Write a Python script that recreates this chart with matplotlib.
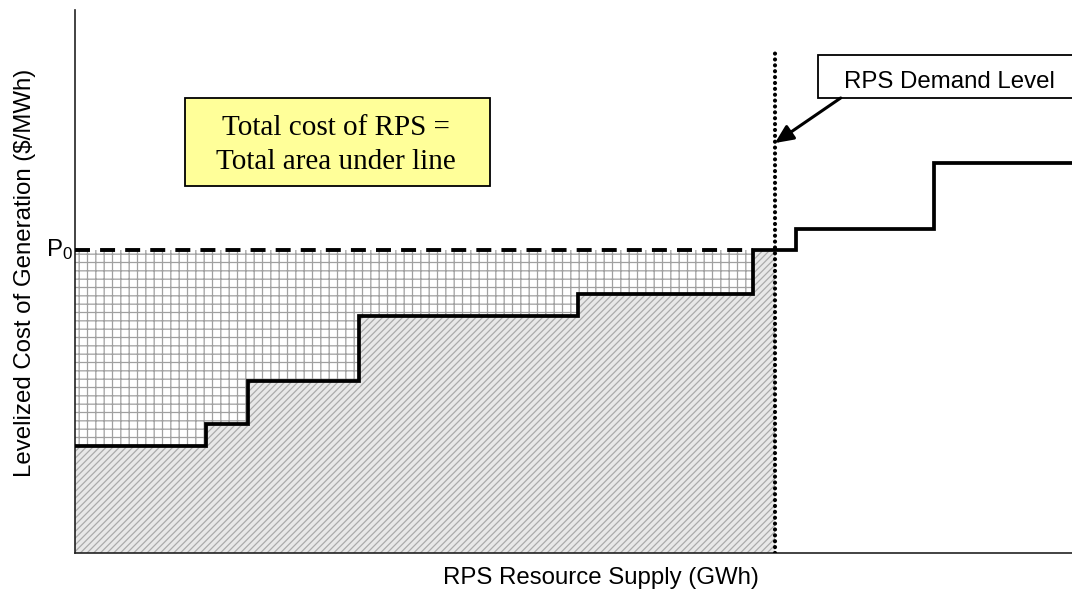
import matplotlib
matplotlib.use("Agg")
import matplotlib.pyplot as plt
from matplotlib.patches import Rectangle

plt.rcParams['font.family'] = ['Liberation Sans', 'DejaVu Sans']
plt.rcParams['mathtext.default'] = 'regular'
plt.rcParams['hatch.linewidth'] = 0.9

# Supply curve (arbitrary units): step edges and cost levels
step_edges = [0, 13.1, 17.4, 28.5, 50.5, 68.0, 72.3, 86.2, 100]
step_levels = [19.7, 23.8, 31.7, 43.6, 47.7, 55.8, 59.7, 71.8]
p0_level = 55.8
p0_end = 68.0
demand_x = 70.2
demand_top = 92.0

x_label = "RPS Resource Supply (GWh)"
y_label = "Levelized Cost of Generation ($/MWh)"
box_lines = ["Total cost of RPS =", "Total area under line"]
demand_text = "RPS Demand Level"

fig = plt.figure(figsize=(10.72, 5.90), dpi=100)
ax = fig.add_axes([75/1072, 37/590, 997/1072, 543/590])
ax.set_xlim(0, 100)
ax.set_ylim(0, 100)

# fill regions up to demand level
fx = [e for e in step_edges if e < demand_x] + [demand_x]
fy = step_levels[:len(fx) - 1] + [step_levels[len(fx) - 2]]
ax.fill_between(fx, fy, p0_level, step='post', facecolor='white',
                edgecolor='#a0a0a0', hatch='++', linewidth=0, zorder=1)
ax.fill_between(fx, 0, fy, step='post', facecolor='#e8e8e8',
                edgecolor='#ababab', hatch='/////', linewidth=0, zorder=1)

# P0 dashed line
ax.plot([0, p0_end], [p0_level, p0_level], color='black', lw=2.8,
        dashes=(3.85, 2.6), zorder=3)

# step supply curve
ax.stairs(step_levels, step_edges, baseline=None, color='black', lw=2.7, zorder=4)

# demand dotted line
ax.plot([demand_x, demand_x], [0, demand_top], color='black', lw=3.0,
        dashes=(0.01, 1.4), dash_capstyle='round', zorder=4)

# yellow text box
ax.add_patch(Rectangle((11.0, 67.6), 30.6, 16.2, facecolor='#ffff99',
                       edgecolor='black', lw=1.3, zorder=5))
for ytxt, line in zip([77.0, 70.8], box_lines):
    ax.text(26.2, ytxt, line, ha='center', va='baseline', fontsize=21,
            family=['Liberation Serif'], zorder=6)

# demand label box
ax.add_patch(Rectangle((74.5, 83.8), 30, 8.0, facecolor='white',
                       edgecolor='black', lw=1.3, zorder=5, clip_on=True))
ax.text(87.7, 85.6, demand_text, ha='center', va='baseline', fontsize=17.3, zorder=6)
ax.annotate('', xy=(demand_x, 75.5), xytext=(76.8, 83.8),
            arrowprops=dict(arrowstyle='-|>,head_length=1.1,head_width=0.5',
                            color='black', lw=2.2, shrinkA=0, shrinkB=0), zorder=6)

# P0 label
ax.text(-0.25, p0_level, r'P$_0$', ha='right', va='center', fontsize=17.3, clip_on=False)

for s in ['top', 'right']:
    ax.spines[s].set_visible(False)
for s in ['left', 'bottom']:
    ax.spines[s].set_linewidth(1.2)
    ax.spines[s].set_color('#222222')
ax.set_xticks([])
ax.set_yticks([])

ax.set_xlabel(x_label, fontsize=17.3)
ax.xaxis.set_label_coords(0.528, -0.025)
ax.set_ylabel(y_label, fontsize=17.3)
ax.yaxis.set_label_coords(-0.039, 0.516)

fig.savefig('out.png', dpi=100)
